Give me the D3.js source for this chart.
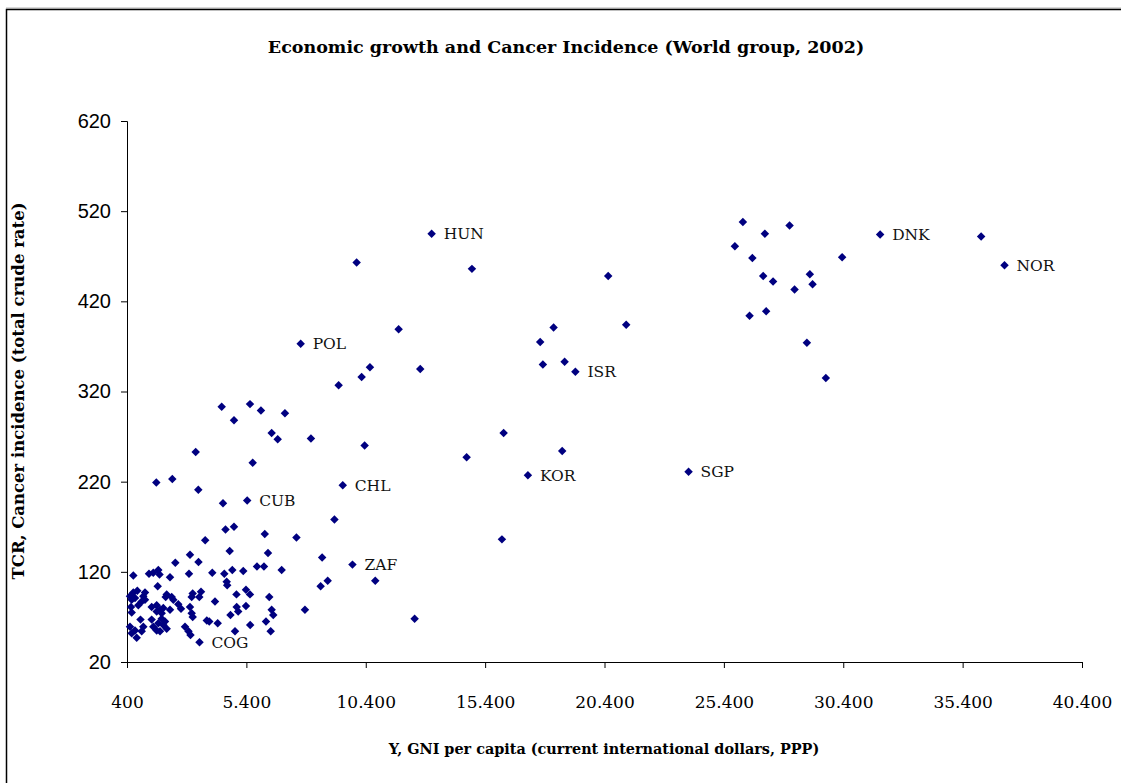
<!DOCTYPE html>
<html>
<head>
<meta charset="utf-8">
<script src="https://cdn.jsdelivr.net/npm/d3@7"></script>
<style>
  html, body { margin: 0; padding: 0; background: #fff; }
  svg { display: block; }
</style>
</head>
<body>
<svg id="chart" width="1121" height="783"></svg>
<script>
// ---- Data ----
const chartTitle = "Economic growth and Cancer Incidence (World group, 2002)";
const xAxisTitle = "Y, GNI per capita (current international dollars, PPP)";
const yAxisTitle = "TCR, Cancer incidence (total crude rate)";

const xTicks = [400, 5400, 10400, 15400, 20400, 25400, 30400, 35400, 40400];
const yTicks = [20, 120, 220, 320, 420, 520, 620];

// labelled countries
const labelNames = ["HUN", "POL", "ISR", "KOR", "SGP", "DNK", "NOR", "CHL", "CUB", "ZAF", "COG"];
const labelGNI   = [13160, 7674, 19181, 17192, 23922, 31945, 37155, 9437, 5434, 9843, 3436];
const labelTCR   = [495, 373, 342, 227, 231, 494, 460, 216, 199, 128, 42];

// other countries (unlabelled)
const otherGNI = [
  10019, 14847, 20555, 11778, 10576, 10228, 9265, 12682, 18268, 21309,
  17707, 17820, 18729, 16175, 14625, 18629, 16104, 26196, 28151, 27117,
  25861, 26593, 30354, 36175, 27046, 27460, 29001, 29114, 28361, 26476,
  27171, 28876, 29671,
  4366, 5551, 6011, 7016, 4881, 6459, 6711, 8105, 10354, 3277,
  5664, 1627, 2297, 3386, 4420, 9089, 4525, 4881, 3675, 6171,
  7498, 4701, 6305, 3038, 3394, 2423, 8574, 5844, 6137, 6878,
  4810, 5270, 3972, 4475, 2996, 2201, 664, 1321, 1501, 1711,
  1761, 10798, 8805, 8511, 4575, 4596, 1686, 4985, 5383, 5551,
  6359, 3151, 3109, 3499, 3428, 4085, 2062, 2021, 2272, 2339,
  2548, 2661, 664, 831, 526, 1154, 1083, 597, 735, 568,
  873, 1016, 1154, 1434, 1644, 1782, 1920, 2201, 1853, 1644,
  3038, 3109, 3151, 4994, 5383, 5057, 4734, 6459, 6526, 7854,
  6221, 5559, 4198, 3742, 3846, 2829, 2975, 3059, 4923, 6418,
  12448, 526, 735, 597, 806, 1016, 1083, 965, 1434, 1501,
  1644, 1782, 1711, 1920, 2062, 1991, 1853, 597
];
const otherTCR = [
  463, 456, 448, 389, 347, 336, 327, 345, 391, 394,
  375, 350, 353, 274, 247, 254, 156, 508, 504, 495,
  481, 468, 469, 492, 448, 442, 450, 439, 433, 404,
  409, 374, 335,
  303, 306, 299, 296, 288, 274, 267, 268, 260, 253,
  241, 219, 223, 211, 196, 178, 167, 170, 155, 162,
  158, 143, 141, 139, 131, 130, 136, 126, 126, 122,
  122, 121, 119, 118, 118, 114, 116, 118, 119, 122,
  117, 110, 110, 104, 109, 105, 104, 95, 100, 95,
  92, 96, 92, 98, 92, 87, 95, 92, 92, 89,
  84, 79, 97, 99, 93, 97, 93, 89, 91, 81,
  83, 87, 89, 81, 83, 78, 80, 78, 74, 76,
  81, 74, 70, 81, 82, 76, 72, 78, 72, 78,
  65, 61, 63, 66, 65, 59, 54, 50, 54, 54,
  68, 59, 55, 52, 47, 54, 59, 67, 67, 59,
  55, 54, 63, 61, 57, 65, 68, 75
];

// ---- Layout ----
const svg = d3.select("#chart");
const plot = { left: 127, right: 1082, top: 121, bottom: 662 };
const markColor = "#000080";
const serif = "'DejaVu Serif', 'Liberation Serif', serif";
const sans = "'Liberation Sans', Arial, sans-serif";

const x = d3.scaleLinear().domain([400, 40400]).range([plot.left, plot.right]);
const y = d3.scaleLinear().domain([20, 620]).range([plot.bottom, plot.top]);

// outer chart border (Excel style)
svg.append("line").attr("x1", 6).attr("x2", 1121).attr("y1", 8).attr("y2", 8)
  .attr("stroke", "#b0b0b0").attr("stroke-width", 1);
svg.append("rect").attr("x", 6.5).attr("y", 9.5).attr("width", 1130).attr("height", 800)
  .attr("fill", "none").attr("stroke", "#000").attr("stroke-width", 1.5);

// title
svg.append("text").attr("x", 566).attr("y", 53).attr("text-anchor", "middle")
  .attr("font-family", serif).attr("font-weight", "bold").attr("font-size", 17.5)
  .attr("fill", "#000").text(chartTitle);

const fmt = d3.formatLocale({ decimal: ",", thousands: ".", grouping: [3], currency: ["", ""] }).format(",d");

// x axis
const xAxis = d3.axisBottom(x).tickValues(xTicks).tickSize(6).tickPadding(28).tickFormat(fmt);
const gx = svg.append("g").attr("transform", `translate(0,${plot.bottom})`).call(xAxis);
gx.select(".domain").attr("stroke", "#000");
gx.selectAll(".tick line").attr("stroke", "#000");
gx.selectAll(".tick text").attr("font-family", serif).attr("font-size", 17).attr("fill", "#000");

// y axis
const yAxis = d3.axisLeft(y).tickValues(yTicks).tickSize(6).tickPadding(10).tickFormat(d3.format("d"));
const gy = svg.append("g").attr("transform", `translate(${plot.left},0)`).call(yAxis);
gy.select(".domain").attr("stroke", "#000");
gy.selectAll(".tick line").attr("stroke", "#000");
gy.selectAll(".tick text").attr("font-family", sans).attr("font-size", 20).attr("fill", "#000");

// axis titles
svg.append("text").attr("x", 604).attr("y", 754).attr("text-anchor", "middle")
  .attr("font-family", serif).attr("font-weight", "bold").attr("font-size", 14.4)
  .attr("fill", "#000").text(xAxisTitle);
svg.append("text").attr("transform", `translate(24,391) rotate(-90)`).attr("text-anchor", "middle")
  .attr("font-family", serif).attr("font-weight", "bold").attr("font-size", 16.5)
  .attr("fill", "#000").text(yAxisTitle);

// points
const points = otherGNI.map((g, i) => ({ g, t: otherTCR[i], name: "" }))
  .concat(labelGNI.map((g, i) => ({ g, t: labelTCR[i], name: labelNames[i] })));

const diamond = d3.symbol().type(d3.symbolSquare).size(36);
svg.append("g").selectAll("path").data(points).join("path")
  .attr("d", diamond)
  .attr("transform", d => `translate(${x(d.g)},${y(d.t)}) rotate(45)`)
  .attr("fill", markColor);

// labels
svg.append("g").selectAll("text").data(points.filter(d => d.name)).join("text")
  .attr("x", d => x(d.g) + 12)
  .attr("y", d => y(d.t))
  .attr("dy", "0.35em")
  .attr("font-family", serif).attr("font-size", 15.5).attr("fill", "#111")
  .text(d => d.name);
</script>
</body>
</html>
